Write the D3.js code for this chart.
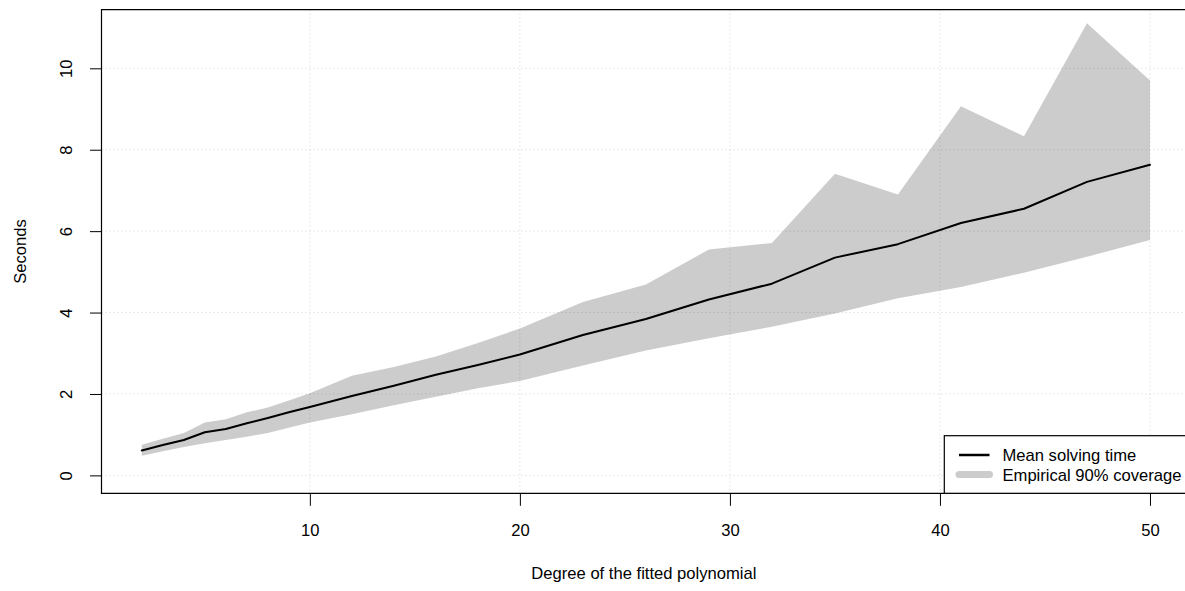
<!DOCTYPE html>
<html><head><meta charset="utf-8">
<script src="https://cdn.jsdelivr.net/npm/d3@7"></script>
<style>html,body{margin:0;padding:0;background:#fff;overflow:hidden}svg{display:block}text{font-family:"Liberation Sans",Arial,sans-serif;fill:#000}</style>
</head><body>
<script>
const degrees = [2,3,4,5,6,7,8,9,10,12,14,16,18,20,23,26,29,32,35,38,41,44,47,50];
const meanTime = [0.61,0.745,0.87,1.06,1.14,1.28,1.41,1.55,1.68,1.95,2.20,2.47,2.71,2.97,3.45,3.84,4.32,4.71,5.35,5.68,6.20,6.55,7.21,7.63];
const upper90 = [0.75,0.90,1.04,1.30,1.38,1.55,1.67,1.84,2.02,2.45,2.66,2.92,3.25,3.61,4.26,4.69,5.55,5.71,7.41,6.90,9.07,8.33,11.11,9.70];
const lower90 = [0.48,0.59,0.70,0.79,0.87,0.95,1.04,1.17,1.30,1.50,1.72,1.93,2.14,2.32,2.70,3.07,3.37,3.65,3.98,4.35,4.63,4.98,5.37,5.78];
const xTicks = [10,20,30,40,50];
const yTicks = [0,2,4,6,8,10];
const legendLabels = ["Mean solving time","Empirical 90% coverage"];
const xTitle = "Degree of the fitted polynomial";
const yTitle = "Seconds";

const W = 1185, H = 591;
const L = 101.5, R = 1190.3, T = 9.7, B = 493.3;
const FS = 16.6;

const svg = d3.select("body").append("svg").attr("width", W).attr("height", H);
const x = d3.scaleLinear().domain([0.08, 51.92]).range([L, R]);
const y = d3.scaleLinear().domain([-0.44, 11.44]).range([B, T]);

const data = degrees.map((d,i)=>({d, m:meanTime[i], u:upper90[i], l:lower90[i]}));

// grid
const g = svg.append("g");
g.selectAll("line.vx").data(xTicks).join("line")
  .attr("x1", d=>x(d)).attr("x2", d=>x(d)).attr("y1", T).attr("y2", B)
  .attr("stroke", "#d3d3d3").attr("stroke-width", 1).attr("stroke-dasharray", "1,3");
g.selectAll("line.hy").data(yTicks).join("line")
  .attr("x1", L).attr("x2", R).attr("y1", d=>y(d)).attr("y2", d=>y(d))
  .attr("stroke", "#d3d3d3").attr("stroke-width", 1).attr("stroke-dasharray", "1,3");

// band
const area = d3.area().x(d=>x(d.d)).y0(d=>y(d.l)).y1(d=>y(d.u));
svg.append("path").datum(data).attr("d", area).attr("fill", "rgba(0,0,0,0.2)");

// mean line
const line = d3.line().x(d=>x(d.d)).y(d=>y(d.m));
svg.append("path").datum(data).attr("d", line).attr("fill", "none")
  .attr("stroke", "#000").attr("stroke-width", 2).attr("stroke-linejoin", "round").attr("stroke-linecap", "round");

// axes
const xAxis = d3.axisBottom(x).tickValues(xTicks).tickSize(12.5).tickPadding(5).tickFormat(d3.format("d"));
const xa = svg.append("g").attr("transform", `translate(0,${B})`).call(xAxis);
xa.select(".domain").remove();
xa.selectAll("line").attr("stroke", "#000");
xa.selectAll("text").attr("font-size", FS).attr("font-family", "Liberation Sans, Arial, sans-serif").attr("fill", "#000")
  .attr("dy", null).attr("y", 43.2);

const yAxis = d3.axisLeft(y).tickValues(yTicks).tickSize(11.5).tickFormat(d3.format("d"));
const ya = svg.append("g").attr("transform", `translate(${L},0)`).call(yAxis);
ya.select(".domain").remove();
ya.selectAll("line").attr("stroke", "#000");
ya.selectAll("text").remove();
ya.selectAll("g.tick").append("text")
  .attr("transform", "translate(-29.8,0) rotate(-90)")
  .attr("text-anchor", "middle").attr("font-size", FS).attr("fill", "#000")
  .text(d=>d);

// box
svg.append("path").attr("d", `M${R+5},${T}H${L}V${B}H${R+5}`).attr("fill", "none").attr("stroke", "#000").attr("stroke-width", 1.2);

// titles
svg.append("text").attr("x", (L+R)/2 - 2).attr("y", 579).attr("text-anchor", "middle").attr("font-size", FS).text(xTitle);
svg.append("text").attr("transform", `translate(26,${(T+B)/2}) rotate(-90)`).attr("text-anchor", "middle").attr("font-size", FS).text(yTitle);

// legend
const lg = svg.append("g");
lg.append("rect").attr("x", 944.3).attr("y", 435.7).attr("width", R - 944.3).attr("height", B - 435.7)
  .attr("fill", "#fff").attr("stroke", "#000").attr("stroke-width", 1.2);
const legItems = [
  {label: legendLabels[0], color: "#000", w: 2.5, cy: 455},
  {label: legendLabels[1], color: "#cccccc", w: 7, cy: 474.5}
];
legItems.forEach(it=>{
  lg.append("line").attr("x1", 959).attr("x2", 989.5).attr("y1", it.cy).attr("y2", it.cy)
    .attr("stroke", it.color).attr("stroke-width", it.w).attr("stroke-linecap", it.w>4 ? "round" : "butt");
  lg.append("text").attr("x", 1002.5).attr("y", it.cy + 6.2).attr("font-size", FS).text(it.label);
});
</script>
</body></html>
